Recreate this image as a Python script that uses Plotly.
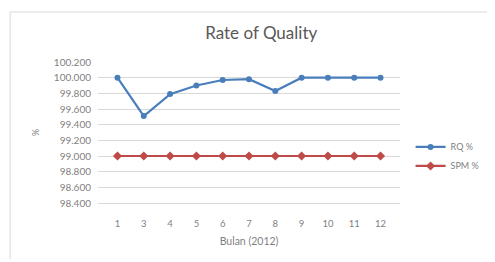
import plotly.graph_objects as go

months = ["1", "3", "4", "5", "6", "7", "8", "9", "10", "11", "12"]
rq = [100.00, 99.51, 99.79, 99.90, 99.97, 99.98, 99.83, 100.00, 100.00, 100.00, 100.00]
spm = [99.00] * 11
yticks = [98.4, 98.6, 98.8, 99.0, 99.2, 99.4, 99.6, 99.8, 100.0, 100.2]

FONT = "Lato, Open Sans, sans-serif"
W, H = 487, 254  # page body has an 8px margin
fig = go.Figure()
fig.add_trace(go.Scatter(x=months, y=rq, name="RQ %", mode="lines+markers",
                         line=dict(color="#4A7EBB", width=2.2),
                         marker=dict(symbol="circle", size=6, color="#4A7EBB")))
fig.add_trace(go.Scatter(x=months, y=spm, name="SPM %", mode="lines+markers",
                         line=dict(color="#BE4B48", width=2.2),
                         marker=dict(symbol="diamond", size=7, color="#BE4B48")))

fig.update_layout(
    width=W, height=H,
    margin=dict(l=90, r=95, t=54, b=59, autoexpand=False),
    paper_bgcolor="white", plot_bgcolor="white",
    title=dict(text="Rate of Quality", x=0.52, xanchor="center", y=1 - 25 / H, yanchor="middle",
               font=dict(family=FONT, size=17, color="#595959")),
    font=dict(family=FONT, color="#595959"),
    xaxis=dict(type="category", showgrid=False, showline=True, linecolor="#d9d9d9", linewidth=1,
               ticks="", automargin=False,
               tickfont=dict(size=9.5, color="#7f7f7f"), ticklabelstandoff=12,
               title=dict(text="Bulan (2012)", font=dict(size=10.5, color="#7f7f7f"), standoff=9)),
    yaxis=dict(range=[98.4, 100.2], tickvals=yticks, ticktext=[f"{v:.3f}" for v in yticks],
               showgrid=True, gridcolor="#d9d9d9", gridwidth=1, zeroline=False, automargin=False,
               tickfont=dict(size=10, color="#7f7f7f"), ticklabelstandoff=6,
               title=dict(text="%", font=dict(size=9, color="#7f7f7f"), standoff=12)),
    legend=dict(x=1.035, y=0.33, xanchor="left", yanchor="middle",
                font=dict(size=9, color="#7f7f7f"), tracegroupgap=10, itemwidth=30),
    showlegend=True,
    shapes=[
        dict(type="line", xref="paper", yref="paper", x0=-0.291, x1=1.35, y0=1.355, y1=1.355,
             line=dict(color="#d9d9d9", width=1)),
        dict(type="line", xref="paper", yref="paper", x0=-0.291, x1=-0.291, y0=1.355, y1=-0.4,
             line=dict(color="#d9d9d9", width=1)),
    ],
)
fig.write_html("out.html")
